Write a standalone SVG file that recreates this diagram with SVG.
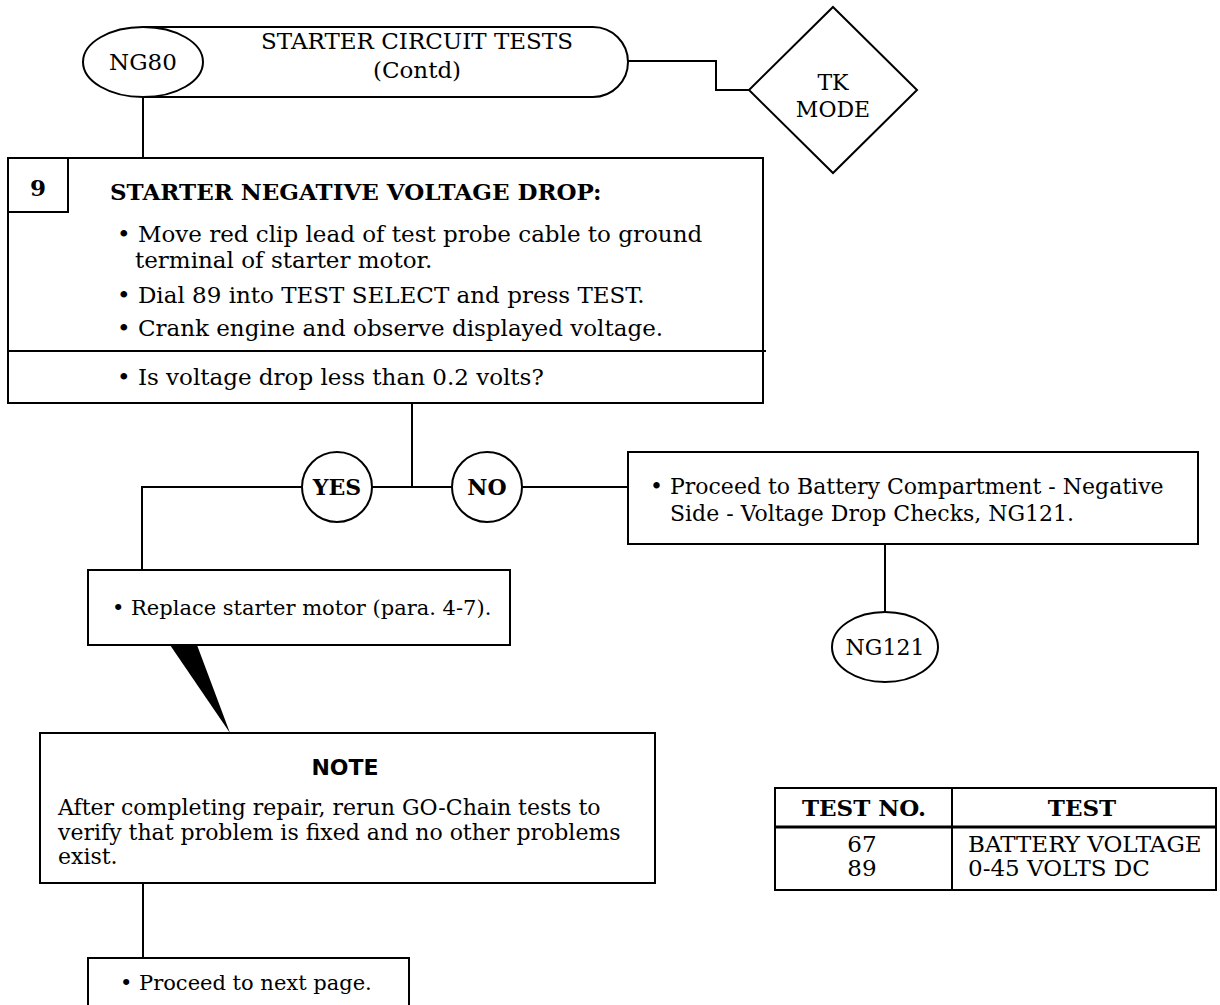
<svg xmlns="http://www.w3.org/2000/svg" width="1220" height="1005" viewBox="0 0 1220 1005">
<style>
.s{fill:#fff;stroke:#000;stroke-width:2}
.l{fill:none;stroke:#000;stroke-width:2}
.t{font-family:"DejaVu Serif","Liberation Serif",serif;font-size:22px;fill:#000}
.g{font-size:23px}
.m{font-size:21px}
.b{font-weight:bold}
.c{text-anchor:middle}
.n{font-family:"DejaVu Sans","Liberation Sans",sans-serif;font-weight:900;font-size:22px;fill:#000}
</style>
<rect width="1220" height="1005" fill="#fff"/>
<g id="connectors">
<path class="l" d="M628,61 H716 V90 H749"/>
<path class="l" d="M143,97 V158"/>
<path class="l" d="M412,403 V487"/>
<path class="l" d="M142,570 V487 H302 M372,487 H452 M522,487 H628"/>
<path class="l" d="M885,544 V612"/>
<path class="l" d="M143,883 V958"/>
<polygon points="170,645 197,645 230,733" fill="#000"/>
</g>
<g id="header">
<path class="s" d="M143,27 H593 A35,35 0 0 1 593,97 H143 Z"/>
<text class="t g c" x="417" y="49">STARTER CIRCUIT TESTS</text>
<text class="t g c" x="417" y="78">(Contd)</text>
</g>
<g id="ng80">
<ellipse class="s" cx="143" cy="62" rx="60" ry="35"/>
<text class="t g c" x="143" y="70">NG80</text>
</g>
<g id="tkmode">
<polygon class="s" points="833,7 917,90 833,173 749,90"/>
<text class="t c" x="833" y="90">TK</text>
<text class="t c" x="833" y="117">MODE</text>
</g>
<g id="step9">
<rect class="s" x="8" y="158" width="755" height="245"/>
<path class="l" d="M8,212 H68 V158 M8,351 H766"/>
<text class="t g b c" x="38" y="196">9</text>
<text class="t g b" x="110" y="200">STARTER NEGATIVE VOLTAGE DROP:</text>
<text class="t g" x="117" y="242">• Move red clip lead of test probe cable to ground</text>
<text class="t g" x="135" y="268">terminal of starter motor.</text>
<text class="t g" x="117" y="303">• Dial 89 into TEST SELECT and press TEST.</text>
<text class="t g" x="117" y="336">• Crank engine and observe displayed voltage.</text>
<text class="t g" x="117" y="385">• Is voltage drop less than 0.2 volts?</text>
</g>
<g id="yes">
<circle class="s" cx="337" cy="487" r="35"/>
<text class="t b c" x="337" y="495">YES</text>
</g>
<g id="no">
<circle class="s" cx="487" cy="487" r="35"/>
<text class="t b c" x="487" y="495">NO</text>
</g>
<g id="proceed-battery">
<rect class="s" x="628" y="452" width="570" height="92"/>
<text class="t" x="650" y="494">• Proceed to Battery Compartment - Negative</text>
<text class="t" x="670" y="521">Side - Voltage Drop Checks, NG121.</text>
</g>
<g id="ng121">
<ellipse class="s" cx="885" cy="647" rx="53" ry="35"/>
<text class="t c" x="885" y="655">NG121</text>
</g>
<g id="replace">
<rect class="s" x="88" y="570" width="422" height="75"/>
<text class="t m" x="112" y="615">•  Replace starter motor (para. 4-7).</text>
</g>
<g id="note">
<rect class="s" x="40" y="733" width="615" height="150"/>
<text class="n c" x="345" y="775">NOTE</text>
<text class="t" x="58" y="815">After completing repair, rerun GO-Chain tests to</text>
<text class="t" x="58" y="840">verify that problem is fixed and no other problems</text>
<text class="t" x="58" y="864">exist.</text>
</g>
<g id="next-page">
<path class="s" d="M88,1008 V958 H409 V1008"/>
<text class="t m" x="120" y="990">•  Proceed to next page.</text>
</g>
<g id="table">
<rect class="s" x="775" y="788" width="441" height="102"/>
<path class="l" d="M952,788 V890"/>
<path d="M775,827 H1216" stroke="#000" stroke-width="3"/>
<text class="t g b c" x="864" y="816">TEST NO.</text>
<text class="t g b c" x="1082" y="816">TEST</text>
<text class="t g c" x="862" y="852">67</text>
<text class="t g c" x="862" y="876">89</text>
<text class="t g" x="968" y="852">BATTERY VOLTAGE</text>
<text class="t g" x="968" y="876">0-45 VOLTS DC</text>
</g>
</svg>
